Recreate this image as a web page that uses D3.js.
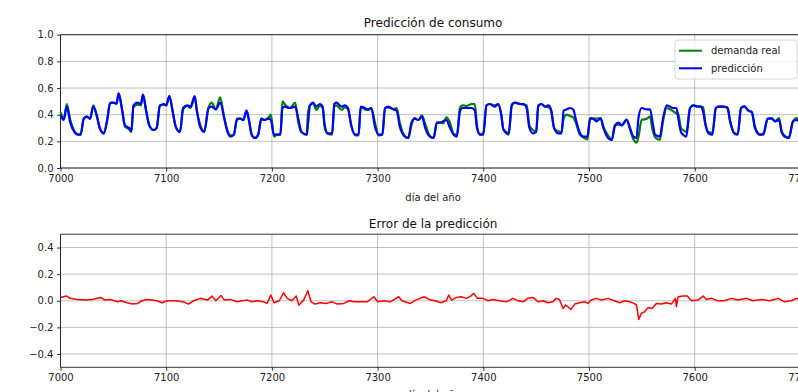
<!DOCTYPE html>
<html><head><meta charset="utf-8">
<script src="https://cdn.jsdelivr.net/npm/d3@7"></script>
<style>
html,body{margin:0;padding:0;background:#fff;overflow:hidden}
text{font-family:"DejaVu Sans",sans-serif}
</style></head>
<body>
<svg id="c" width="798" height="392"></svg>
<script>
// ---- data ----
const hours = [7000,7003,7006,7009,7013,7016,7019,7022,7025,7028,7031,7035,7037,7041,7044,7047,7050,7053,7055,7058,7061,7065,7067,7069,7073,7076,7078,7081,7084,7088,7091,7094,7098,7100,7103,7106,7109,7113,7116,7120,7123,7127,7129,7132,7136,7140,7143,7147,7151,7155,7158,7161,7164,7167,7170,7173,7176,7178,7181,7184,7187,7190,7193,7197,7199,7202,7205,7208,7210,7212,7217,7222,7225,7228,7233,7234,7236,7239,7242,7245.5,7248,7250,7253,7257,7259,7261,7266,7269,7272,7275,7279,7282,7284,7288,7291,7294,7297.5,7301,7304.5,7307,7310,7315,7318,7321,7326,7329,7332,7335,7338.5,7342,7345,7349.5,7353,7356,7359,7362,7365,7368.5,7372,7375,7378,7380.5,7384,7389,7392,7394,7397,7400,7403,7406,7411,7414,7417,7419,7424,7427,7430,7435,7438,7441,7443.6,7447,7450,7452,7455,7458.4,7461.6,7464,7467,7471,7474,7476,7479,7482,7485,7488,7491,7494.7,7498.5,7501,7504,7507,7511,7513.6,7518,7521.5,7524.6,7528,7531,7535.6,7538.8,7542,7545,7546.7,7549.8,7554.6,7557.7,7560,7562.5,7567,7570,7573.5,7576.6,7579.8,7582.7,7584.3,7587,7589,7592,7595.6,7598.7,7602,7606,7608,7610,7613,7616.7,7620,7622.4,7627,7631,7633.4,7637.5,7640.7,7643.8,7647,7650.8,7654,7657,7661.8,7665,7669,7672.8,7676,7679.8,7682.3,7686,7689,7693,7696.5,7700,7705];
const prediccion = [.40,.36,.46,.35,.27,.25,.25,.37,.385,.37,.46,.37,.30,.26,.35,.485,.49,.485,.56,.45,.32,.30,.275,.47,.49,.48,.55,.43,.32,.285,.30,.47,.48,.47,.54,.43,.31,.27,.45,.47,.46,.54,.43,.31,.27,.45,.46,.44,.49,.37,.27,.235,.25,.37,.37,.36,.43,.37,.25,.225,.25,.37,.36,.37,.36,.25,.25,.25,.45,.46,.45,.46,.37,.27,.25,.32,.47,.49,.46,.48,.46,.32,.26,.26,.48,.49,.46,.47,.45,.32,.25,.25,.46,.45,.44,.45,.31,.25,.25,.45,.46,.44,.43,.31,.235,.225,.34,.37,.36,.385,.30,.235,.225,.34,.34,.35,.36,.30,.25,.235,.43,.45,.45,.45,.43,.30,.25,.25,.47,.48,.46,.48,.40,.29,.26,.47,.49,.48,.48,.45,.30,.26,.27,.47,.48,.46,.47,.44,.30,.26,.26,.43,.44,.45,.44,.35,.27,.235,.235,.37,.37,.35,.37,.30,.225,.21,.32,.34,.32,.36,.30,.235,.225,.37,.45,.44,.44,.35,.25,.235,.37,.47,.46,.45,.45,.38,.27,.25,.235,.45,.47,.46,.46,.42,.33,.26,.25,.45,.46,.46,.45,.35,.26,.25,.45,.46,.43,.42,.30,.25,.25,.37,.37,.35,.36,.27,.235,.225,.35,.36,.34,.30];
const demandaReal = [.42,.37,.48,.37,.28,.255,.25,.37,.385,.37,.47,.37,.305,.26,.355,.49,.49,.48,.56,.45,.31,.29,.27,.455,.475,.47,.55,.43,.32,.285,.30,.465,.475,.47,.54,.43,.31,.27,.44,.465,.45,.53,.43,.33,.275,.45,.49,.44,.53,.375,.28,.245,.25,.36,.37,.36,.43,.37,.245,.225,.25,.37,.36,.38,.40,.235,.25,.25,.50,.48,.45,.49,.34,.27,.25,.40,.47,.485,.435,.465,.45,.30,.255,.25,.46,.47,.435,.455,.44,.32,.245,.245,.455,.44,.435,.45,.34,.245,.25,.445,.455,.44,.45,.34,.235,.225,.32,.375,.36,.395,.33,.24,.225,.34,.34,.335,.38,.34,.255,.25,.455,.47,.465,.48,.48,.32,.25,.265,.47,.48,.47,.48,.40,.29,.25,.48,.49,.48,.475,.47,.32,.285,.27,.46,.48,.46,.455,.435,.30,.275,.27,.37,.40,.39,.38,.33,.255,.23,.215,.375,.37,.37,.375,.31,.245,.21,.32,.325,.32,.365,.29,.215,.19,.23,.36,.37,.385,.29,.23,.21,.35,.45,.44,.425,.41,.41,.30,.285,.27,.45,.47,.465,.46,.455,.34,.27,.265,.45,.46,.46,.455,.36,.26,.255,.45,.465,.43,.42,.31,.25,.26,.37,.375,.35,.375,.27,.23,.225,.35,.375,.34,.30];
const errHours = [7000,7006,7009,7016,7025,7031,7038,7042,7047,7054,7057,7063,7068,7073,7077,7082,7087,7091,7096,7101,7109,7117,7121,7126,7132,7139,7143.5,7147,7152,7155,7161,7167,7172,7177,7181,7186,7192,7195.5,7199,7202,7207,7211,7214.5,7219,7223,7225.5,7230,7234,7237,7241,7246,7251,7257,7262,7268,7273,7277.5,7284,7290,7296.5,7300,7306,7312,7320,7323,7331,7336,7344,7348.5,7354,7360,7365,7367.3,7370,7374.5,7379,7384,7388,7391,7394.4,7399.7,7404.5,7409,7415.5,7422,7428,7433,7437.6,7442,7447,7452,7456.5,7461,7466,7469,7472,7475.5,7477.6,7480,7483,7486.5,7491,7496,7499,7502,7507,7511.7,7518,7524,7529,7533.8,7538.5,7542.6,7545,7547,7549.5,7552.7,7556,7559.6,7563.7,7568.5,7573,7578,7581.7,7582.7,7584.3,7589,7593,7597,7603,7608,7611,7616,7622,7628,7634.7,7641,7649,7655,7663,7671,7679,7685,7691.5,7696.2,7705];
const errValues = [.025,.035,.018,.01,.005,.012,.025,.005,.01,-.008,0,-.015,-.025,-.02,0,.01,.005,0,-.015,0,0,-.01,-.025,0,.018,.005,.035,0,.04,.005,.01,-.008,0,.005,-.008,0,-.008,-.02,.043,-.015,0,.06,.018,0,.035,-.033,.005,.075,-.008,-.025,-.015,-.02,-.008,-.025,-.02,0,-.008,-.008,-.008,.03,-.008,0,-.008,.03,0,-.02,.005,.03,.01,0,-.015,0,.043,.005,.025,.03,.018,.035,.055,.018,.018,0,.01,0,-.008,.018,0,-.008,.018,.025,-.008,0,-.015,-.008,.018,.01,-.058,-.033,-.045,-.065,-.025,-.015,-.008,-.02,.005,.018,.005,.018,0,-.015,0,-.008,-.02,-.033,-.14,-.095,-.083,-.05,-.058,-.02,-.025,-.015,-.025,.018,-.045,.03,.035,.035,0,.005,.035,.01,.018,0,0,.018,.005,.018,0,.01,0,.018,-.008,0,.018,.005];
const topYTicks = [0, 0.2, 0.4, 0.6, 0.8, 1.0];
const errYTicks = [-0.4, -0.2, 0, 0.2, 0.4];
const xTicks = [7000, 7100, 7200, 7300, 7400, 7500, 7600, 7700];
const seriesNames = ["demanda real", "predicción"];
const seriesColors = ["#008000", "#0000ff"];

// ---- drawing ----
const svg = d3.select("#c");
const X0 = 60.5, X1 = 805.7;
const x = d3.scaleLinear().domain([7000, 7705]).range([X0, X1]);
const yTop = d3.scaleLinear().domain([0, 1]).range([168, 34.7]);
const yErr = d3.scaleLinear().domain([-0.5, 0.5]).range([367.3, 234.2]);
const fmt = d => (d < 0 ? "\u2212" : "") + Math.abs(d).toFixed(1);

function panel(y, yTicks, title, titleY, xlabelY) {
  const [yb, yt] = y.range();
  const g = svg.append("g");
  g.selectAll(".gx").data(xTicks).enter().append("line")
    .attr("x1", d => x(d)).attr("x2", d => x(d)).attr("y1", yt).attr("y2", yb)
    .attr("stroke", "#b0b0b0").attr("stroke-width", 0.8);
  g.selectAll(".gy").data(yTicks).enter().append("line")
    .attr("x1", X0).attr("x2", X1).attr("y1", d => y(d)).attr("y2", d => y(d))
    .attr("stroke", "#b0b0b0").attr("stroke-width", 0.8);
  const ax = d3.axisBottom(x).tickValues(xTicks).tickSize(3.5).tickPadding(3.5).tickFormat(d3.format("d"));
  const ay = d3.axisLeft(y).tickValues(yTicks).tickSize(3.5).tickPadding(3.5).tickFormat(fmt);
  const gx = g.append("g").attr("transform", `translate(0,${yb})`).call(ax);
  const gy = g.append("g").attr("transform", `translate(${X0},0)`).call(ay);
  [gx, gy].forEach(a => {
    a.select(".domain").remove();
    a.selectAll("line").attr("stroke", "#000").attr("stroke-width", 0.8);
    a.selectAll("text").attr("font-size", 10).attr("fill", "#222").attr("font-family", "DejaVu Sans");
  });
  g.append("line").attr("x1", X0).attr("x2", X0).attr("y1", yt).attr("y2", yb).attr("stroke", "#000").attr("stroke-width", 0.8);
  g.append("line").attr("x1", X0).attr("x2", X1).attr("y1", yt).attr("y2", yt).attr("stroke", "#000").attr("stroke-width", 0.8);
  g.append("line").attr("x1", X0).attr("x2", X1).attr("y1", yb).attr("y2", yb).attr("stroke", "#000").attr("stroke-width", 0.8);
  svg.append("text").attr("x", (X0 + X1) / 2).attr("y", titleY).attr("text-anchor", "middle")
    .attr("font-size", 12).attr("fill", "#111").text(title);
  svg.append("text").attr("x", (X0 + X1) / 2).attr("y", xlabelY).attr("text-anchor", "middle")
    .attr("font-size", 10).attr("fill", "#222").text("día del año");
}

panel(yTop, topYTicks, "Predicción de consumo", 27, 201);
panel(yErr, errYTicks, "Error de la predicción", 228, 398);

const lineTop = (vals) => d3.line().curve(d3.curveMonotoneX).x((d, i) => x(hours[i])).y(d => yTop(d))(vals);
svg.append("path").attr("d", lineTop(demandaReal)).attr("fill", "none")
  .attr("stroke", seriesColors[0]).attr("stroke-width", 2.2).attr("stroke-linejoin", "round");
svg.append("path").attr("d", lineTop(prediccion)).attr("fill", "none")
  .attr("stroke", seriesColors[1]).attr("stroke-width", 2.2).attr("stroke-linejoin", "round");

svg.append("path").attr("d", d3.line().x((d, i) => x(errHours[i])).y(d => yErr(d))(errValues))
  .attr("fill", "none").attr("stroke", "#ff0000").attr("stroke-width", 1.5).attr("stroke-linejoin", "round");

const lg = svg.append("g");
lg.append("rect").attr("x", 675).attr("y", 40).attr("width", 122).attr("height", 39).attr("rx", 3)
  .attr("fill", "#fff").attr("fill-opacity", 0.85).attr("stroke", "#cccccc").attr("stroke-width", 0.8);
seriesNames.forEach((n, i) => {
  const yy = 50.7 + i * 17.6;
  lg.append("line").attr("x1", 679).attr("x2", 702).attr("y1", yy).attr("y2", yy)
    .attr("stroke", seriesColors[i]).attr("stroke-width", 2);
  lg.append("text").attr("x", 711).attr("y", yy + 3.6).attr("font-size", 10).attr("fill", "#222").text(n);
});
</script>
</body></html>
